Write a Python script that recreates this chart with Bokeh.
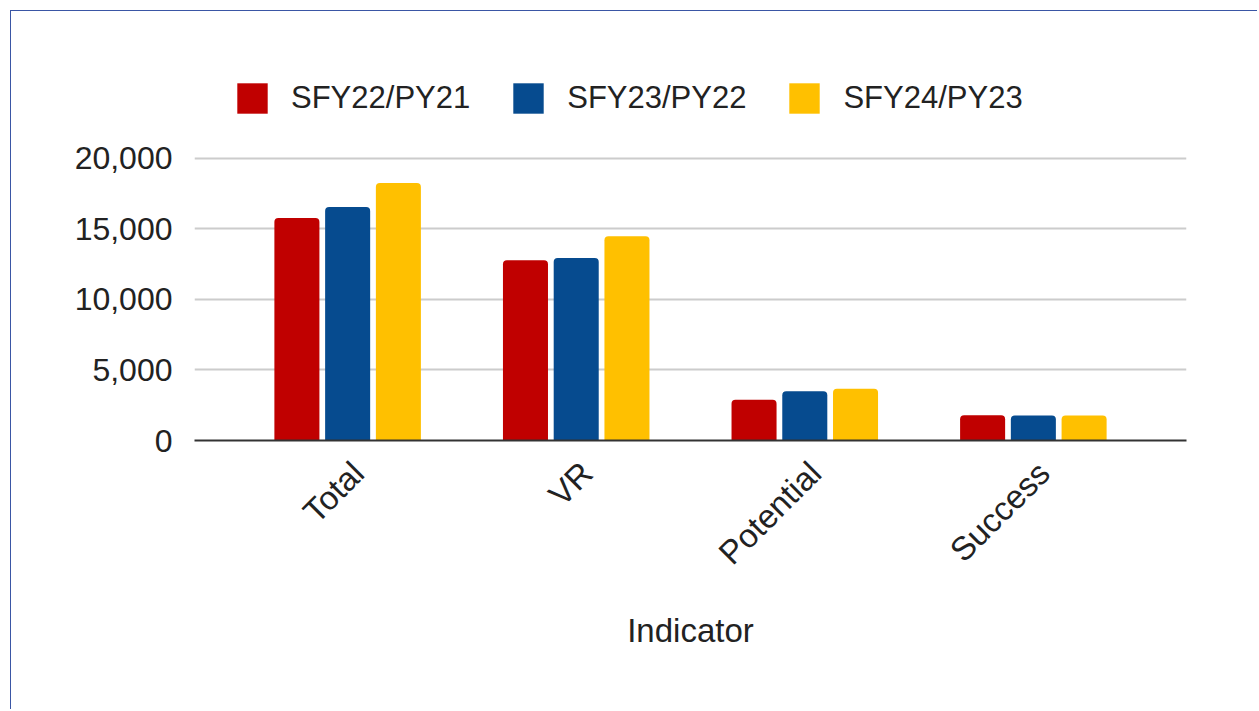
from bokeh.plotting import figure
from bokeh.models import ColumnDataSource, Range1d, Legend, LegendItem, NumeralTickFormatter, FixedTicker
from bokeh.transform import dodge
from bokeh.embed import file_html
from bokeh.resources import INLINE
import math

categories = ["Total", "VR", "Potential", "Success"]
series_names = ["SFY22/PY21", "SFY23/PY22", "SFY24/PY23"]
sfy22 = [15750, 12770, 2890, 1780]
sfy23 = [16530, 12930, 3480, 1770]
sfy24 = [18230, 14470, 3670, 1770]
colors = ["#c00000", "#064b8f", "#ffc000"]
y_ticks = [0, 5000, 10000, 15000, 20000]

xpos = list(range(len(categories)))
src = ColumnDataSource(dict(x=xpos, s1=sfy22, s2=sfy23, s3=sfy24))

FONT = "Liberation Sans"
FS = "32px"
W, H = 1247, 699
p = figure(
    width=W, height=H,
    x_range=Range1d(-0.67, len(categories) - 1 + 0.67),
    y_range=Range1d(0, 26200),   # headroom above 20,000 holds the legend
    output_backend="svg", toolbar_location=None,
    min_border_left=183, min_border_right=72, min_border_top=59, min_border_bottom=270,
    styles={"margin-left": "10px", "margin-top": "10px",
            "border-left": "1px solid #3a56a5", "border-top": "1px solid #3a56a5"},
)
p.outline_line_color = None
p.background_fill_color = "white"
p.border_fill_color = "white"

offsets = [-0.222, 0.0, 0.222]
fields = ["s1", "s2", "s3"]
renderers = []
for f, off, c in zip(fields, offsets, colors):
    r = p.vbar(x=dodge("x", off), top=f, width=0.197, source=src,
               fill_color=c, line_color=None, border_radius=(4, 4, 0, 0))
    renderers.append(r)

legend = Legend(
    items=[LegendItem(label=n, renderers=[r]) for n, r in zip(series_names, renderers)],
    orientation="horizontal", location=(39, 323),
    glyph_width=38, glyph_height=38, label_standoff=20, spacing=39,
    padding=0, margin=0, border_line_color=None, background_fill_alpha=0,
    label_text_font=FONT, label_text_font_size="31px", label_text_color="#222222",
)
p.add_layout(legend, "center")

# y axis
p.yaxis.ticker = FixedTicker(ticks=y_ticks)
p.yaxis.formatter = NumeralTickFormatter(format="0,0")
p.yaxis.axis_line_color = None
p.yaxis.major_tick_line_color = None
p.yaxis.minor_tick_line_color = None
p.yaxis.major_tick_out = 0
p.yaxis.major_label_standoff = 22
p.yaxis.major_label_text_font = FONT
p.yaxis.major_label_text_font_size = FS
p.yaxis.major_label_text_color = "#222222"

p.ygrid.ticker = FixedTicker(ticks=y_ticks)
p.ygrid.grid_line_color = "#cccccc"
p.ygrid.grid_line_width = 2
p.xgrid.grid_line_color = None

# x axis (category labels at integer positions, nudged like the reference)
label_nudge = 0.046
tick_locs = [i + label_nudge for i in xpos]
p.xaxis.ticker = FixedTicker(ticks=tick_locs)
p.xaxis.major_label_overrides = {t: c for t, c in zip(tick_locs, categories)}
p.xaxis.axis_line_color = "#333333"
p.xaxis.axis_line_width = 2
p.xaxis.major_tick_line_color = None
p.xaxis.minor_tick_line_color = None
p.xaxis.major_tick_out = 0
p.xaxis.major_label_orientation = math.pi / 4
p.xaxis.major_label_standoff = 27
p.xaxis.major_label_text_font = FONT
p.xaxis.major_label_text_font_size = "33px"
p.xaxis.major_label_text_color = "#222222"
p.xaxis.axis_label = "Indicator"
p.xaxis.axis_label_text_font = FONT
p.xaxis.axis_label_text_font_size = "33px"
p.xaxis.axis_label_text_font_style = "normal"
p.xaxis.axis_label_text_color = "#222222"
p.xaxis.axis_label_standoff = 25

open("out.html", "w").write(file_html(p, INLINE))
